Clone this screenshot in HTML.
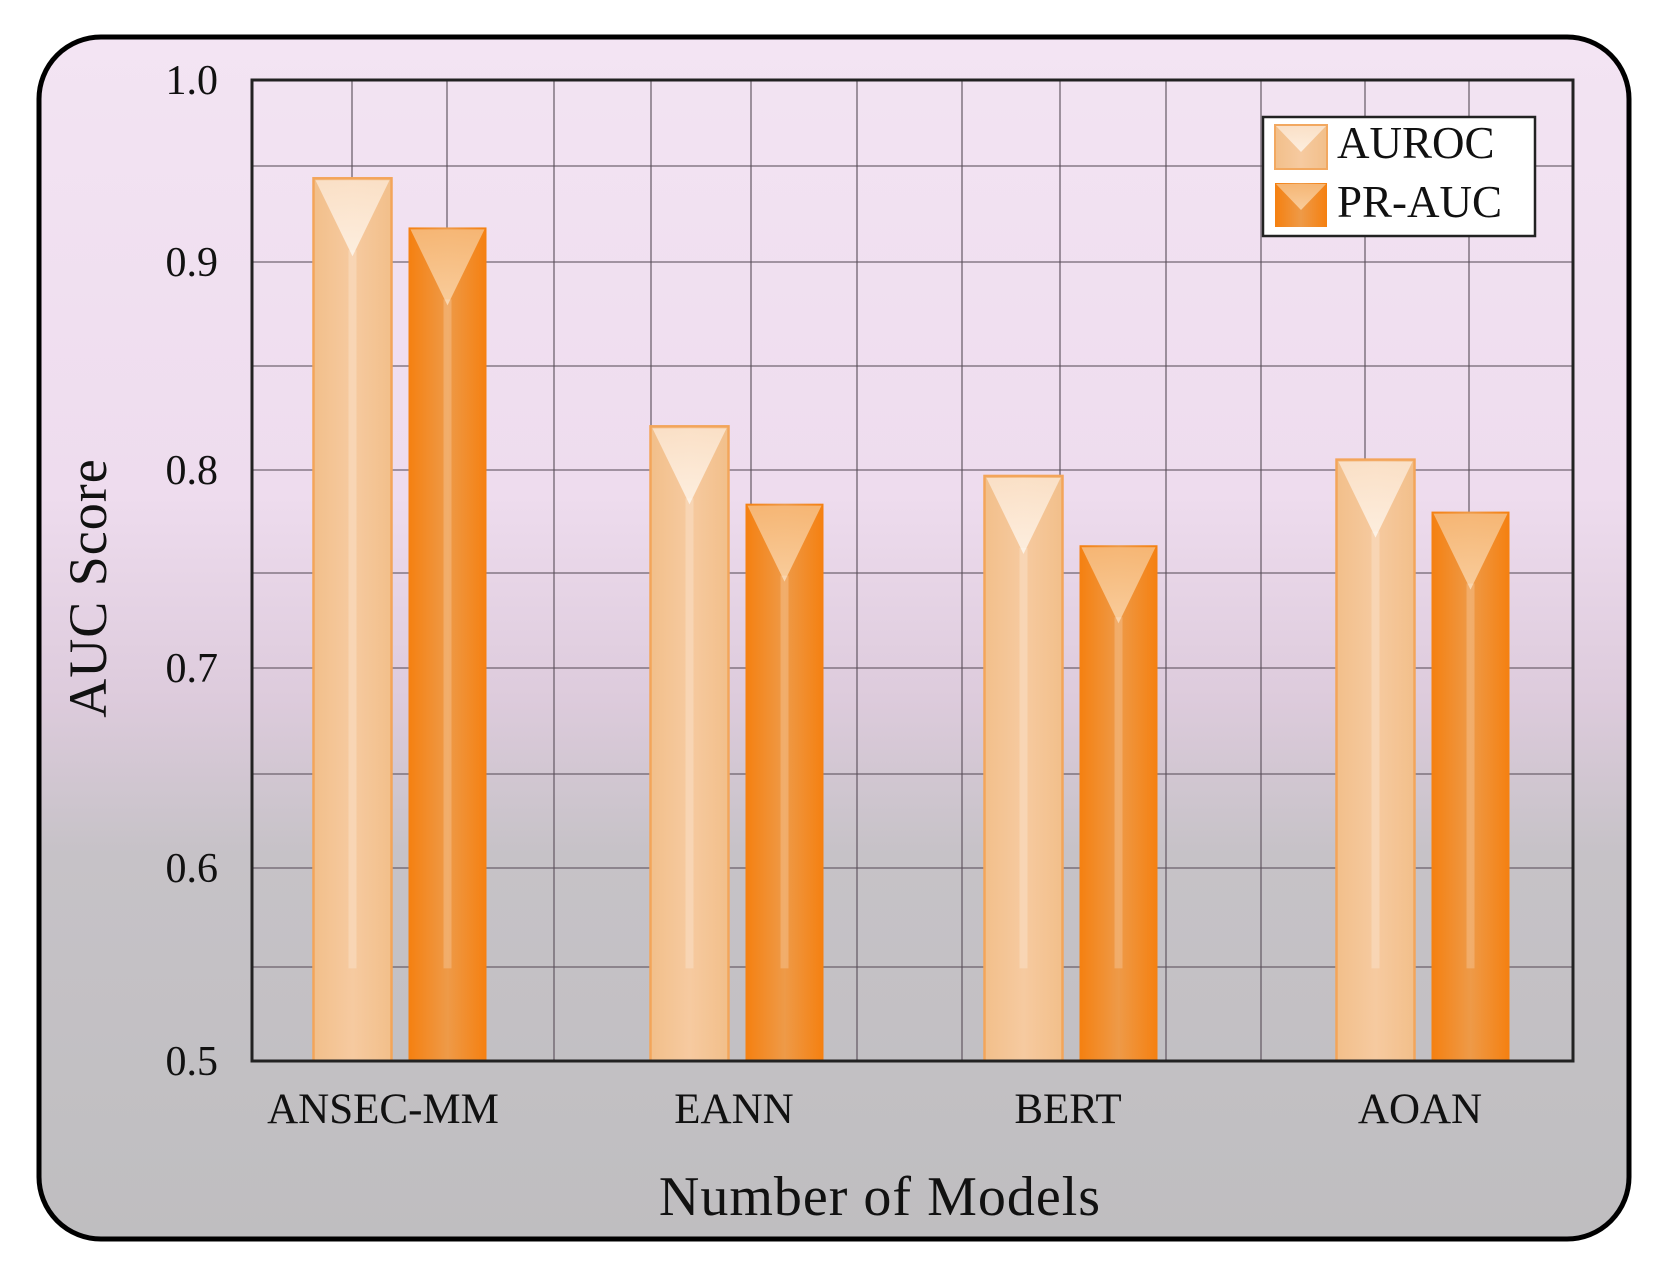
<!DOCTYPE html>
<html><head><meta charset="utf-8">
<style>
html,body{margin:0;padding:0;background:#fff;}
svg{display:block;font-family:"Liberation Serif",serif;}
</style></head>
<body>
<svg id="chart" width="1663" height="1267" viewBox="0 0 1663 1267" xmlns="http://www.w3.org/2000/svg">
<defs>
<linearGradient id="bg" x1="0" y1="0" x2="0" y2="1">
<stop offset="0" stop-color="#f3e4f3"/>
<stop offset="0.38" stop-color="#eedcee"/>
<stop offset="0.55" stop-color="#ddcbdc"/>
<stop offset="0.68" stop-color="#c6c2c7"/>
<stop offset="1" stop-color="#bfbec0"/>
</linearGradient>
<linearGradient id="hlA" x1="0" y1="0" x2="0" y2="1">
<stop offset="0" stop-color="#fbe3cc" stop-opacity="0.9"/>
<stop offset="1" stop-color="#fdf0e2" stop-opacity="0.95"/>
</linearGradient>
<linearGradient id="hlP" x1="0" y1="0" x2="0" y2="1">
<stop offset="0" stop-color="#f6b878" stop-opacity="0.95"/>
<stop offset="1" stop-color="#f9cfa0" stop-opacity="0.95"/>
</linearGradient>
<linearGradient id="bodyA" x1="0" y1="0" x2="1" y2="0">
<stop offset="0" stop-color="#f2bf8a"/>
<stop offset="0.5" stop-color="#f6caa0"/>
<stop offset="1" stop-color="#f2bf8a"/>
</linearGradient>
<linearGradient id="bodyP" x1="0" y1="0" x2="1" y2="0">
<stop offset="0" stop-color="#f58010"/>
<stop offset="0.5" stop-color="#ee9a48"/>
<stop offset="1" stop-color="#f58010"/>
</linearGradient>
</defs>
<rect x="39" y="37" width="1590" height="1202" rx="62" ry="62" fill="url(#bg)" stroke="#000" stroke-width="5"/>
<g id="grid"></g>
<g id="bars"></g>
<rect x="252" y="80" width="1321" height="981" fill="none" stroke="#222" stroke-width="3"/>
<g id="yticks"></g>
<g id="xticks"></g>
<text x="880" y="1215" font-size="56" letter-spacing="1" text-anchor="middle" fill="#111">Number of Models</text>
<text transform="translate(106,588) rotate(-90)" font-size="54" letter-spacing="1" text-anchor="middle" fill="#111">AUC Score</text>
<g>
<rect x="1263" y="117" width="272" height="119" fill="#fff" stroke="#222" stroke-width="2.5"/>
<g>
<rect x="1275" y="125" width="52" height="44" fill="url(#bodyA)" stroke="#f2a860" stroke-width="2"/>
<polygon points="1276,126 1326,126 1301,152" fill="url(#hlA)"/>
<text x="1337" y="158" font-size="45" fill="#111">AUROC</text>
</g>
<g>
<rect x="1275" y="183" width="52" height="44" fill="url(#bodyP)"/>
<polygon points="1276,184 1326,184 1301,210" fill="url(#hlP)"/>
<text x="1337" y="217" font-size="45" fill="#111">PR-AUC</text>
</g>
</g>
</svg>
<script>
const categories = ["ANSEC-MM", "EANN", "BERT", "AOAN"];
const aurocValues = [0.946, 0.821, 0.797, 0.805];
const prAucValues = [0.919, 0.783, 0.762, 0.779];
const yTickLabels = ["0.5", "0.6", "0.7", "0.8", "0.9", "1.0"];
const yTickValues = [0.5, 0.6, 0.7, 0.8, 0.9, 1.0];

const NS = "http://www.w3.org/2000/svg";
const plotL = 252, plotR = 1573, plotT = 80, plotB = 1061;
const tickPix = [1061, 868, 668, 470, 262, 80];
function yScale(v) {
  for (let i = 0; i < yTickValues.length - 1; i++) {
    const a = yTickValues[i], b = yTickValues[i + 1];
    if (v <= b || i === yTickValues.length - 2) {
      const t = (v - a) / (b - a);
      return tickPix[i] + t * (tickPix[i + 1] - tickPix[i]);
    }
  }
}
const groupCenters = [400, 737, 1071, 1423];
function xCenter(i) { return groupCenters[i]; }
function mk(tag, attrs, parent) {
  const e = document.createElementNS(NS, tag);
  for (const k in attrs) e.setAttribute(k, attrs[k]);
  parent.appendChild(e);
  return e;
}
const grid = document.getElementById("grid");
const hLines = [166, 262, 366, 470, 573, 668, 774, 868, 967];
hLines.forEach(y => {
  const l = mk("line", {x1: plotL, x2: plotR, y1: y, y2: y, stroke: "#5a4e5a", "stroke-width": 1.6, "stroke-opacity": 0.7}, grid);
  
  
});
const vLines = [352, 447, 554, 651, 751, 857, 962, 1060, 1166, 1261, 1365, 1469];
vLines.forEach(x => {
  const l = mk("line", {x1: x, x2: x, y1: plotT, y2: plotB, stroke: "#5a4e5a", "stroke-width": 1.6, "stroke-opacity": 0.7}, grid);
  
  
});

const bars = document.getElementById("bars");
const bw = 78, gap = 17;
function drawBar(x, v, series, i) {
  const top = yScale(v);
  const g = mk("g", {}, bars);
  
  
  const isA = series === "auroc";
  mk("rect", {x: x, y: top, width: bw, height: plotB - top, fill: isA ? "url(#bodyA)" : "url(#bodyP)",
    stroke: isA ? "#f3a55a" : "none", "stroke-width": 2.5}, g);
  const vDepth = 78;
  mk("polygon", {points: `${x+2},${top+2} ${x+bw-2},${top+2} ${x+bw/2},${top+vDepth}`, fill: isA ? "url(#hlA)" : "url(#hlP)"}, g);
  const stripeBottom = yScale(0.548);
  mk("rect", {x: x + bw/2 - 4, y: top + vDepth - 6, width: 8, height: Math.max(0, stripeBottom - top - vDepth + 6),
    fill: "#fff", "fill-opacity": isA ? 0.22 : 0.2}, g);
}
categories.forEach((c, i) => {
  const cx = xCenter(i);
  drawBar(cx - gap/2 - bw, aurocValues[i], "auroc", i);
  drawBar(cx + gap/2, prAucValues[i], "pr-auc", i);
});

const yt = document.getElementById("yticks");
yTickValues.forEach((v, i) => {
  const t = mk("text", {x: 218, y: yScale(v) + 14, "font-size": 42, "text-anchor": "end", fill: "#111"}, yt);
  t.textContent = yTickLabels[i];
  
  
});
const xt = document.getElementById("xticks");
categories.forEach((c, i) => {
  const t = mk("text", {x: xCenter(i) + (i === 0 ? -17 : -3), y: 1123, "font-size": 43, "text-anchor": "middle", fill: "#111"}, xt);
  t.textContent = c;
  
  
});
</script>
</body></html>
